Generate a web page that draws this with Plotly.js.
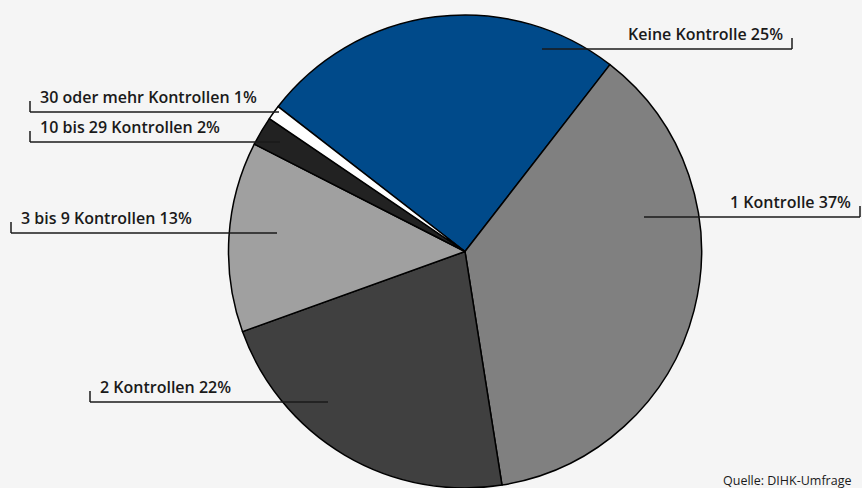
<!DOCTYPE html>
<html>
<head>
<meta charset="utf-8">
<script src="https://cdn.plot.ly/plotly-3.0.1.min.js"></script>
<style>html,body{margin:0;padding:0;background:#f5f5f5;}#chart{width:862px;height:488px;}</style>
</head>
<body>
<div id="chart"></div>
<script>
// Data
const categories = ["Keine Kontrolle", "1 Kontrolle", "2 Kontrollen", "3 bis 9 Kontrollen", "10 bis 29 Kontrollen", "30 oder mehr Kontrollen"];
const shares = [25, 37, 22, 13, 2, 1];
const sliceColors = ["#004a8a", "#808080", "#404040", "#a0a0a0", "#222222", "#ffffff"];
const labelTexts = ["Keine Kontrolle 25%", "1 Kontrolle 37%", "2 Kontrollen 22%", "3 bis 9 Kontrollen 13%", "10 bis 29 Kontrollen 2%", "30 oder mehr Kontrollen 1%"];

// Label layout (pixel positions of leader lines, not data)
const W = 862, H = 488;
const labelLayout = [
  {side: "right", lineY: 49, inner: 542, outer: 792},
  {side: "right", lineY: 217, inner: 644, outer: 860},
  {side: "left", lineY: 402, inner: 328, outer: 90},
  {side: "left", lineY: 233, inner: 277, outer: 11},
  {side: "left", lineY: 142, inner: 280, outer: 30},
  {side: "left", lineY: 112, inner: 279, outer: 30}
];

const px = x => x / W;
const py = y => 1 - y / H;

const shapes = [];
const annotations = [];
labelLayout.forEach((L, i) => {
  shapes.push({type: "line", xref: "paper", yref: "paper",
    x0: px(L.inner), x1: px(L.outer), y0: py(L.lineY), y1: py(L.lineY),
    line: {color: "#1a1a1a", width: 1.5}});
  shapes.push({type: "line", xref: "paper", yref: "paper",
    x0: px(L.outer), x1: px(L.outer), y0: py(L.lineY), y1: py(L.lineY - 11),
    line: {color: "#1a1a1a", width: 1.5}});
  annotations.push({
    xref: "paper", yref: "paper",
    x: L.side === "right" ? px(L.outer - 7) : px(L.outer + 8),
    y: py(L.lineY - 15),
    xanchor: L.side === "right" ? "right" : "left",
    yanchor: "middle",
    text: labelTexts[i],
    showarrow: false,
    font: {family: "Open Sans, sans-serif", size: 16, color: "#1a1a1a", weight: 600}
  });
});
annotations.push({
  xref: "paper", yref: "paper", x: px(721), y: py(480), xanchor: "left", yanchor: "middle",
  text: "Quelle: DIHK-Umfrage", showarrow: false,
  font: {family: "Open Sans, sans-serif", size: 12.5, color: "#1a1a1a"}
});

const trace = {
  type: "pie",
  labels: categories,
  values: shares,
  sort: false,
  direction: "clockwise",
  rotation: -52.2,
  textinfo: "none",
  hoverinfo: "label+percent",
  marker: {colors: sliceColors, line: {color: "#000000", width: 1.5}},
  domain: {x: [228 / W, 702 / W], y: [0, 1 - 15 / H]},
  showlegend: false
};

Plotly.newPlot("chart", [trace], {
  width: W, height: H,
  margin: {l: 0, r: 0, t: 0, b: 0},
  paper_bgcolor: "#f5f5f5",
  plot_bgcolor: "#f5f5f5",
  showlegend: false,
  shapes: shapes,
  annotations: annotations
}, {staticPlot: true});
</script>
</body>
</html>
